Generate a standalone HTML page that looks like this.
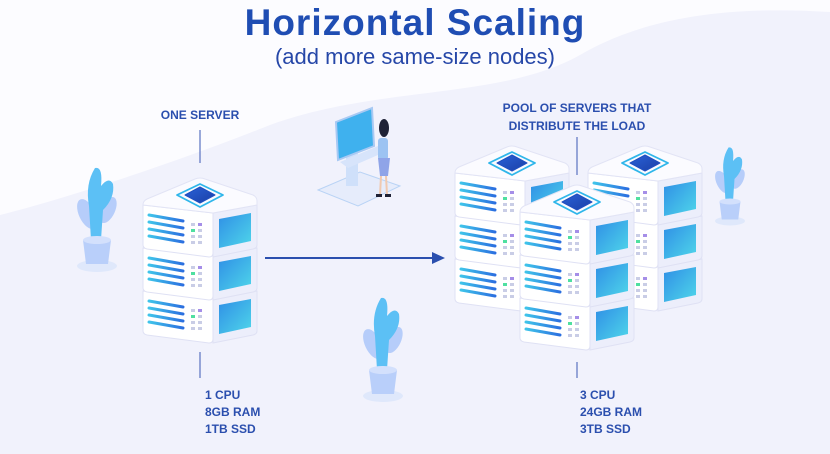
<!DOCTYPE html>
<html><head><meta charset="utf-8"><style>
html,body{margin:0;padding:0;background:#fdfdff;}
svg{display:block;}
text{font-family:"Liberation Sans",sans-serif;}
</style></head><body>
<svg width="830" height="454" viewBox="0 0 830 454" xmlns="http://www.w3.org/2000/svg">
<defs>
<linearGradient id="scr" x1="0" y1="0" x2="1" y2="1"><stop offset="0" stop-color="#2f8fe6"/><stop offset="1" stop-color="#4fd6ea"/></linearGradient>
<linearGradient id="dia" x1="0" y1="0" x2="1" y2="1"><stop offset="0" stop-color="#2a62d8"/><stop offset="1" stop-color="#1b3fa6"/></linearGradient>
<linearGradient id="ln" x1="0" y1="0" x2="1" y2="0"><stop offset="0" stop-color="#3fc4ea"/><stop offset="1" stop-color="#2b6fe0"/></linearGradient>
<g id="unit">
  <path d="M0,30 L70,38 L70,78 Q70,82 66,82 L4,74 Q0,73 0,70 Z" fill="#ffffff" stroke="#dfe1f4" stroke-width="1"/>
  <path d="M70,38 L114,30 L114,70 Q114,73 110,74 L70,82 Z" fill="#eceefb" stroke="#dfe1f4" stroke-width="1"/>
  <g stroke="url(#ln)" stroke-width="3" stroke-linecap="round">
    <line x1="6" y1="40" x2="40" y2="46"/><line x1="6" y1="47" x2="40" y2="53"/>
    <line x1="6" y1="54" x2="40" y2="60"/><line x1="6" y1="61" x2="40" y2="67"/>
  </g>
  <g fill="#c9cde6">
    <rect x="48" y="48" width="4" height="3"/><rect x="55" y="48" width="4" height="3" fill="#a58ee8"/>
    <rect x="48" y="54" width="4" height="3" fill="#4fe0a0"/><rect x="55" y="54" width="4" height="3"/>
    <rect x="48" y="60" width="4" height="3"/><rect x="55" y="60" width="4" height="3"/>
    <rect x="48" y="66" width="4" height="3"/><rect x="55" y="66" width="4" height="3"/>
  </g>
  <path d="M76,44 L108,38 L108,66 L76,73 Z" fill="url(#scr)"/>
</g>
<g id="stack">
  <use href="#unit" y="86"/>
  <use href="#unit" y="43"/>
  <use href="#unit" y="0"/>
  <path d="M0,30 Q0,26 4,24 L52,4 Q57,2 62,4 L110,20 Q114,22 114,26 L114,30 L70,38 Z" fill="#fbfbff" stroke="#e2e4f5" stroke-width="1"/>
  <path d="M57,9 L80,20 L57,32 L34,20 Z" fill="none" stroke="#2fb6ea" stroke-width="1.8" stroke-linejoin="round"/>
  <path d="M57,12 L72,20 L57,28 L42,20 Z" fill="url(#dia)" stroke="#1f4fc0" stroke-width="1" stroke-linejoin="round"/>
</g>
<g id="plant">
  <ellipse cx="0" cy="60" rx="20" ry="6" fill="#dfe8fb"/>
  <ellipse cx="-10" cy="8" rx="8" ry="16" fill="#b6cdfa" transform="rotate(-25 -10 8)"/>
  <ellipse cx="11" cy="4" rx="7" ry="14" fill="#b6cdfa" transform="rotate(25 11 4)"/>
  <path d="M-2,-38 Q6,-40 4,-20 Q12,-30 16,-22 Q18,-8 6,4 L4,34 L-6,34 L-8,0 Q-12,-22 -2,-38 Z" fill="#5cc0f5"/>
  <path d="M-14,34 L14,34 L11,58 L-11,58 Z" fill="#b9cffa"/>
  <ellipse cx="0" cy="34" rx="14" ry="4" fill="#d3e0fc"/>
</g>
</defs>
<rect width="830" height="454" fill="#fcfcff"/>
<path d="M830,12 C720,5 640,20 580,55 C500,100 380,85 270,125 C170,165 60,200 0,215 L0,454 L830,454 Z" fill="#f1f2fc"/>
<text x="415" y="35" text-anchor="middle" font-size="37" font-weight="bold" letter-spacing="1" fill="#1f4db3">Horizontal Scaling</text>
<text x="415" y="64" text-anchor="middle" font-size="22" fill="#2647a8">(add more same-size nodes)</text>
<text x="200" y="119" text-anchor="middle" font-size="12" font-weight="bold" fill="#2b4fae">ONE SERVER</text>
<line x1="200" y1="130" x2="200" y2="163" stroke="#5a72c0" stroke-width="1.2"/>
<text x="577" y="112" text-anchor="middle" font-size="12" font-weight="bold" fill="#2b4fae">POOL OF SERVERS THAT</text>
<text x="577" y="130" text-anchor="middle" font-size="12" font-weight="bold" fill="#2b4fae">DISTRIBUTE THE LOAD</text>
<line x1="577" y1="137" x2="577" y2="175" stroke="#5a72c0" stroke-width="1.2"/>
<use href="#plant" x="97" y="206"/>
<use href="#plant" x="383" y="336"/>
<g transform="translate(730,176) scale(0.75)"><use href="#plant"/></g>
<g>
  <path d="M318,190 L360,172 L400,186 L358,206 Z" fill="#e6ecfb" stroke="#b9d3f5"/>
  <rect x="346" y="150" width="12" height="36" fill="#cfe0fa"/>
  <path d="M336,122 L372,108 L374,146 L338,160 Z" fill="#3fb1ee" stroke="#a8c9f3" stroke-width="2"/>
  <path d="M340,162 L378,146 L385,152 L348,168 Z" fill="#d7e4fb"/>
  <ellipse cx="384" cy="128" rx="5" ry="9" fill="#1f2236"/>
  <rect x="378" y="138" width="10" height="22" rx="3" fill="#9cc3f2"/>
  <path d="M378,158 L390,158 L388,176 L380,176 Z" fill="#8fa4e8"/>
  <line x1="381" y1="176" x2="380" y2="195" stroke="#f0c9b0" stroke-width="2"/>
  <line x1="386" y1="176" x2="387" y2="195" stroke="#f0c9b0" stroke-width="2"/>
  <rect x="376" y="194" width="6" height="3" fill="#1f2236"/><rect x="385" y="194" width="6" height="3" fill="#1f2236"/>
</g>
<use href="#stack" x="143" y="175"/>
<line x1="265" y1="258" x2="434" y2="258" stroke="#2b4fae" stroke-width="2"/>
<path d="M445,258 L432,252 L432,264 Z" fill="#2b4fae"/>
<use href="#stack" x="455" y="143"/>
<use href="#stack" x="588" y="143"/>
<use href="#stack" x="520" y="182"/>
<line x1="200" y1="352" x2="200" y2="378" stroke="#5a72c0" stroke-width="1.2"/>
<text font-size="12" font-weight="bold" fill="#2b4fae"><tspan x="205" y="399">1 CPU</tspan><tspan x="205" y="416">8GB RAM</tspan><tspan x="205" y="433">1TB SSD</tspan></text>
<line x1="577" y1="362" x2="577" y2="378" stroke="#5a72c0" stroke-width="1.2"/>
<text font-size="12" font-weight="bold" fill="#2b4fae"><tspan x="580" y="399">3 CPU</tspan><tspan x="580" y="416">24GB RAM</tspan><tspan x="580" y="433">3TB SSD</tspan></text>
</svg>
</body></html>
